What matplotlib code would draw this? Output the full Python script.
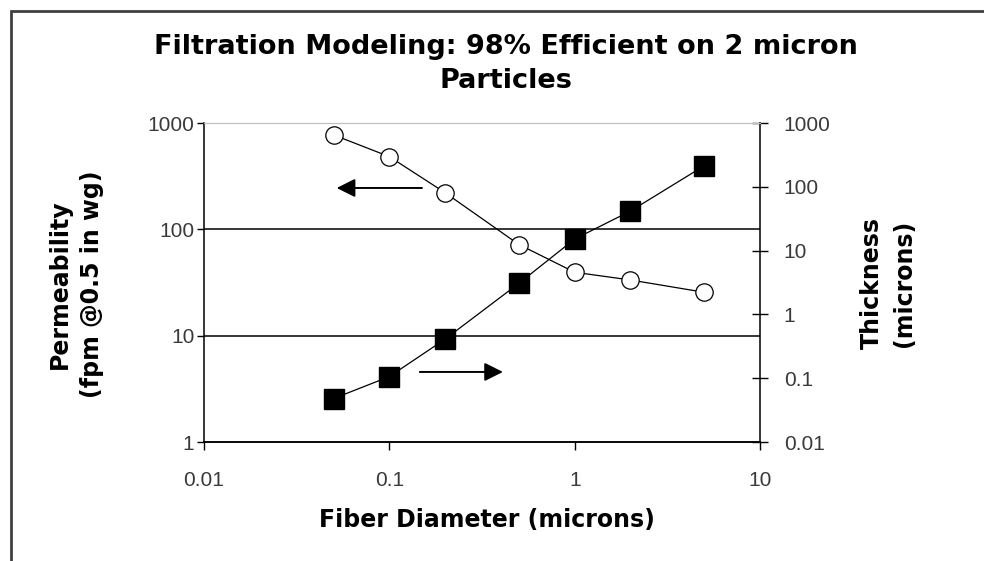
import numpy as np
import matplotlib
matplotlib.use("Agg")
from matplotlib import pyplot as plt
from matplotlib.patches import Rectangle
from matplotlib.ticker import NullLocator

plt.rcParams['font.family'] = ['Liberation Sans', 'DejaVu Sans']

# ----------------------------------------
# Data
# ----------------------------------------
fiber_diameter = [0.05, 0.1, 0.2, 0.5, 1, 2, 5]
permeability = [773, 483, 221, 72, 39.5, 33.4, 25.6]
thickness = [0.048, 0.106, 0.41, 3.07, 15.2, 41.7, 214]

x_ticks = [0.01, 0.1, 1, 10]
x_tick_labels = ["0.01", "0.1", "1", "10"]
left_ticks = [1, 10, 100, 1000]
left_tick_labels = ["1", "10", "100", "1000"]
right_ticks = [0.01, 0.1, 1, 10, 100, 1000]
right_tick_labels = ["0.01", "0.1", "1", "10", "100", "1000"]

# ----------------------------------------
# Figure and axes
# ----------------------------------------
fig = plt.figure(figsize=(9.84, 5.61), dpi=100)
ax = fig.add_axes([0.2073, 0.2121, 0.5651, 0.5686])
ax2 = ax.twinx()

ax.set_xscale('log')
ax.set_yscale('log')
ax2.set_yscale('log')
ax.set_xlim(0.01, 10)
ax.set_ylim(1, 1000)
ax2.set_ylim(0.01, 1000)

# gridlines on the left axis
for v in [10, 100]:
    ax.axhline(v, color='black', lw=1.1, zorder=1)

ax.plot(fiber_diameter, permeability, color='black', lw=0.9,
        marker='o', markersize=12.5, markerfacecolor='white',
        markeredgecolor='black', markeredgewidth=0.9, zorder=3)
ax2.plot(fiber_diameter, thickness, color='black', lw=0.9,
         marker='s', markersize=14, markerfacecolor='black',
         markeredgecolor='black', zorder=3)

# arrows pointing to the axis each series belongs to
ax.annotate('', xy=(0.052, 245), xytext=(0.15, 245),
            arrowprops=dict(arrowstyle='-|>', color='black', lw=1.4,
                            mutation_scale=28, shrinkA=0, shrinkB=0))
ax.annotate('', xy=(0.41, 4.56), xytext=(0.146, 4.56),
            arrowprops=dict(arrowstyle='-|>', color='black', lw=1.4,
                            mutation_scale=28, shrinkA=0, shrinkB=0))

# spines
for a in (ax, ax2):
    a.spines['top'].set_color('#c0c0c0')
    for side in ['left', 'right', 'bottom']:
        a.spines[side].set_color('black')
        a.spines[side].set_linewidth(1.1)
ax.spines['right'].set_visible(False)
ax2.spines['left'].set_visible(False)

tick_color = '#3a3a3a'
ax.set_xticks(x_ticks)
ax.set_xticklabels(x_tick_labels)
ax.set_yticks(left_ticks)
ax.set_yticklabels(left_tick_labels)
ax2.set_yticks(right_ticks)
ax2.set_yticklabels(right_tick_labels)
ax.xaxis.set_minor_locator(NullLocator())
ax.yaxis.set_minor_locator(NullLocator())
ax2.yaxis.set_minor_locator(NullLocator())

ax.tick_params(axis='x', direction='out', length=6, width=1, pad=15,
               labelsize=15, labelcolor=tick_color)
ax.tick_params(axis='y', direction='out', length=5, width=1, pad=2,
               labelsize=15, labelcolor=tick_color)
ax2.tick_params(axis='y', direction='inout', length=12, width=1, pad=11,
                labelsize=15, labelcolor=tick_color)

# labels (wide bold face, as in the original)
label_font = dict(family=['DejaVu Sans'], fontweight='bold', fontsize=17)
fig.text(76 / 984, 1 - 284 / 561, 'Permeability\n(fpm @0.5 in wg)',
         rotation=90, ha='center', va='center', linespacing=1.45,
         **label_font)
fig.text(888 / 984, 1 - 283 / 561, 'Thickness\n(microns)',
         rotation=90, ha='center', va='center', linespacing=1.4,
         **label_font)
fig.text(487 / 984, 1 - 520 / 561, 'Fiber Diameter (microns)',
         ha='center', va='center', **label_font)

fig.text(506 / 984, 1 - 64 / 561,
         'Filtration Modeling: 98% Efficient on 2 micron\nParticles',
         ha='center', va='center', family=['DejaVu Sans'],
         fontsize=19.5, fontweight='bold', linespacing=1.42)

# chart frame (only top and left edges are visible in the picture)
fig.patches.append(Rectangle((10.5 / 984, -0.1), 1.2, 1.1 - 10.5 / 561,
                             transform=fig.transFigure, fill=False,
                             edgecolor='#404040', lw=2))

fig.savefig('out.png', dpi=100)
